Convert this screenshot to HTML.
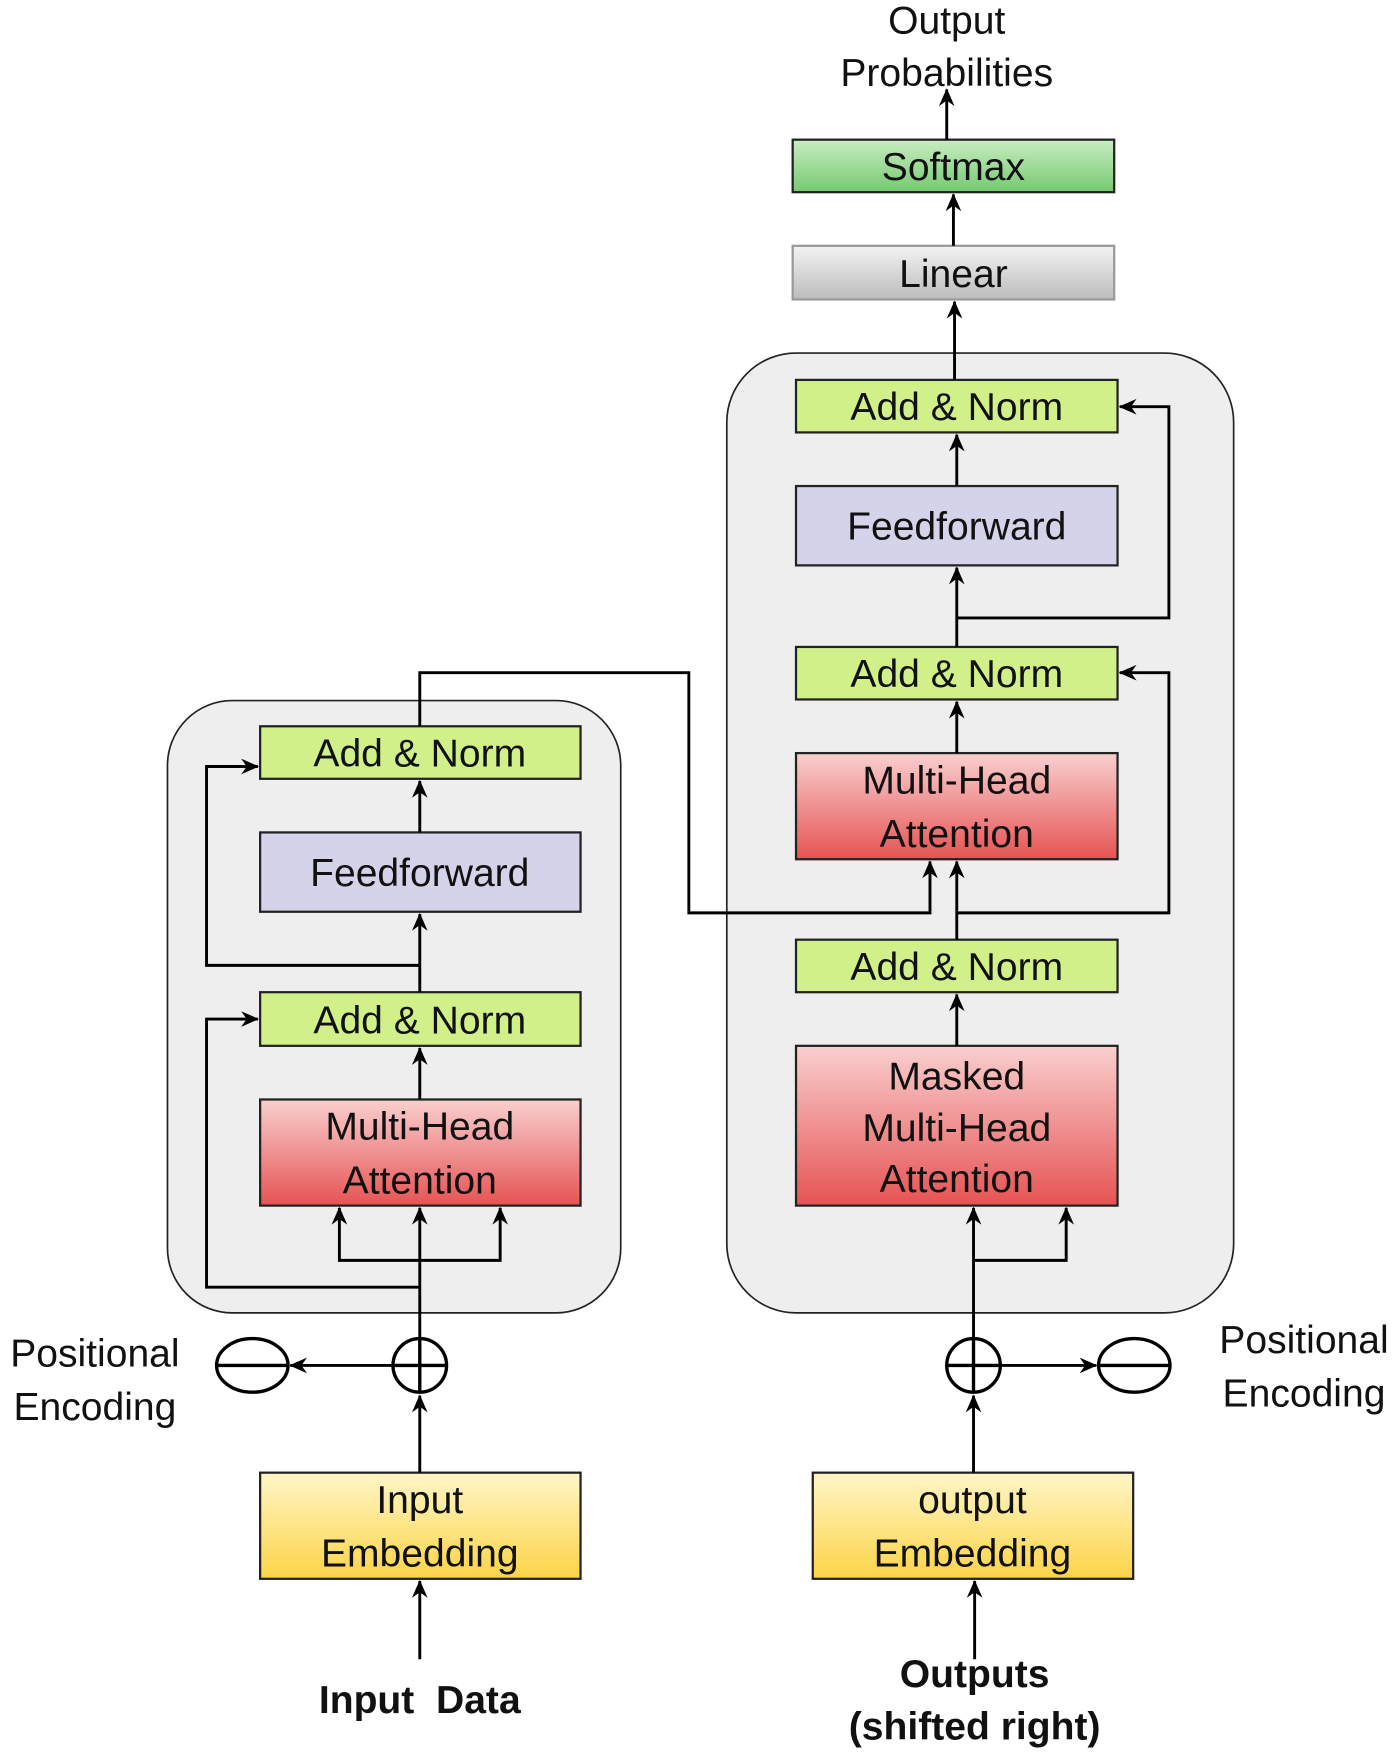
<!DOCTYPE html>
<html><head><meta charset="utf-8"><style>
html,body{margin:0;padding:0;background:#fff;}
svg{display:block;}
text{font-family:"Liberation Sans",Arial,sans-serif;font-size:35px;fill:#111;text-anchor:middle;}
</style></head><body>
<svg width="1400" height="1752" viewBox="0 0 1254 1568" preserveAspectRatio="none" xmlns="http://www.w3.org/2000/svg">
<defs>
<marker id="a" markerWidth="16" markerHeight="16" refX="15" refY="8" orient="auto" markerUnits="userSpaceOnUse" viewBox="0 0 16 16">
<path d="M0,1 L16,8 L0,15 L5,8 z" fill="#000"/></marker>
<linearGradient id="red" x1="0" y1="0" x2="0" y2="1"><stop offset="0" stop-color="#f9cfcf"/><stop offset="1" stop-color="#e65353"/></linearGradient>
<linearGradient id="yel" x1="0" y1="0" x2="0" y2="1"><stop offset="0" stop-color="#fff6c8"/><stop offset="1" stop-color="#fcd447"/></linearGradient>
<linearGradient id="sm" x1="0" y1="0" x2="0" y2="1"><stop offset="0" stop-color="#c9edc2"/><stop offset="1" stop-color="#74c96f"/></linearGradient>
<linearGradient id="gr" x1="0" y1="0" x2="0" y2="1"><stop offset="0" stop-color="#f3f3f3"/><stop offset="1" stop-color="#bcbcbc"/></linearGradient>
</defs>
<rect x="651" y="316" width="454" height="859" rx="62" fill="#eeeeee" stroke="#222" stroke-width="1.5"/>
<rect x="150" y="627" width="406" height="548" rx="58" fill="#eeeeee" stroke="#222" stroke-width="1.5"/>

<g stroke="#222" stroke-width="2">
<rect x="710" y="125" width="288" height="47" fill="url(#sm)"/>
<rect x="710" y="220" width="288" height="48" fill="url(#gr)" stroke="#999"/>
<rect x="713" y="340" width="288" height="47" fill="#d2f08a"/>
<rect x="713" y="435" width="288" height="71" fill="#d5d3ea"/>
<rect x="713" y="579" width="288" height="47" fill="#d2f08a"/>
<rect x="713" y="674" width="288" height="95" fill="url(#red)"/>
<rect x="713" y="841" width="288" height="47" fill="#d2f08a"/>
<rect x="713" y="936" width="288" height="143" fill="url(#red)"/>
<rect x="233" y="650" width="287" height="47" fill="#d2f08a"/>
<rect x="233" y="745" width="287" height="71" fill="#d5d3ea"/>
<rect x="233" y="888" width="287" height="48" fill="#d2f08a"/>
<rect x="233" y="984" width="287" height="95" fill="url(#red)"/>
<rect x="233" y="1318" width="287" height="95" fill="url(#yel)"/>
<rect x="728" y="1318" width="287" height="95" fill="url(#yel)"/>
</g>

<g stroke="#000" stroke-width="3" fill="none">
<circle cx="376" cy="1222" r="24"/><line x1="352" y1="1222" x2="400" y2="1222"/><line x1="376" y1="1198" x2="376" y2="1246"/>
<ellipse cx="226" cy="1222" rx="32" ry="24"/><line x1="194" y1="1222" x2="258" y2="1222"/>
<circle cx="872" cy="1222" r="24"/><line x1="848" y1="1222" x2="896" y2="1222"/><line x1="872" y1="1198" x2="872" y2="1246"/>
<ellipse cx="1016" cy="1222" rx="32" ry="24"/><line x1="984" y1="1222" x2="1048" y2="1222"/>
</g>

<g stroke="#000" stroke-width="2.6" fill="none" marker-end="url(#a)">
<path d="M376,1485 V1415"/>
<path d="M376,1318 V1249"/>
<path d="M376,1198 V1081"/>
<path d="M376,1128 H304 V1081"/>
<path d="M376,1128 H448 V1081"/>
<path d="M376,1152 H185 V912 H231"/>
<path d="M376,984 V938"/>
<path d="M376,888 V818"/>
<path d="M376,864 H185 V686 H231"/>
<path d="M376,745 V699"/>
<path d="M352,1222 H260"/>
<path d="M376,650 V602 H617 V817 H833 V771"/>
<path d="M873,1485 V1415"/>
<path d="M872,1318 V1249"/>
<path d="M872,1198 V1081"/>
<path d="M872,1128 H955 V1081"/>
<path d="M896,1222 H982"/>
<path d="M857,936 V890"/>
<path d="M857,841 V771"/>
<path d="M857,817 H1047 V602 H1003"/>
<path d="M857,674 V628"/>
<path d="M857,579 V508"/>
<path d="M857,553 H1047 V364 H1003"/>
<path d="M857,435 V389"/>
<path d="M855,340 V270"/>
<path d="M854,220 V174"/>
<path d="M848,125 V80"/>
</g>

<text x="848" y="30">Output</text>
<text x="848" y="77">Probabilities</text>
<text x="854" y="161">Softmax</text>
<text x="854" y="257">Linear</text>
<text x="857" y="376">Add &amp; Norm</text>
<text x="857" y="483">Feedforward</text>
<text x="857" y="615">Add &amp; Norm</text>
<text x="857" y="710">Multi-Head</text>
<text x="857" y="758">Attention</text>
<text x="857" y="877">Add &amp; Norm</text>
<text x="857" y="975">Masked</text>
<text x="857" y="1021">Multi-Head</text>
<text x="857" y="1067">Attention</text>
<text x="376" y="686">Add &amp; Norm</text>
<text x="376" y="793">Feedforward</text>
<text x="376" y="925">Add &amp; Norm</text>
<text x="376" y="1020">Multi-Head</text>
<text x="376" y="1068">Attention</text>
<text x="376" y="1354">Input</text>
<text x="376" y="1402">Embedding</text>
<text x="871" y="1354">output</text>
<text x="871" y="1402">Embedding</text>
<text x="85" y="1223">Positional</text>
<text x="85" y="1271">Encoding</text>
<text x="1168" y="1211">Positional</text>
<text x="1168" y="1259">Encoding</text>
<text x="376" y="1533" style="font-weight:bold">Input&#160; Data</text>
<text x="873" y="1510" style="font-weight:bold">Outputs</text>
<text x="873" y="1557" style="font-weight:bold">(shifted right)</text>
</svg>
</body></html>
